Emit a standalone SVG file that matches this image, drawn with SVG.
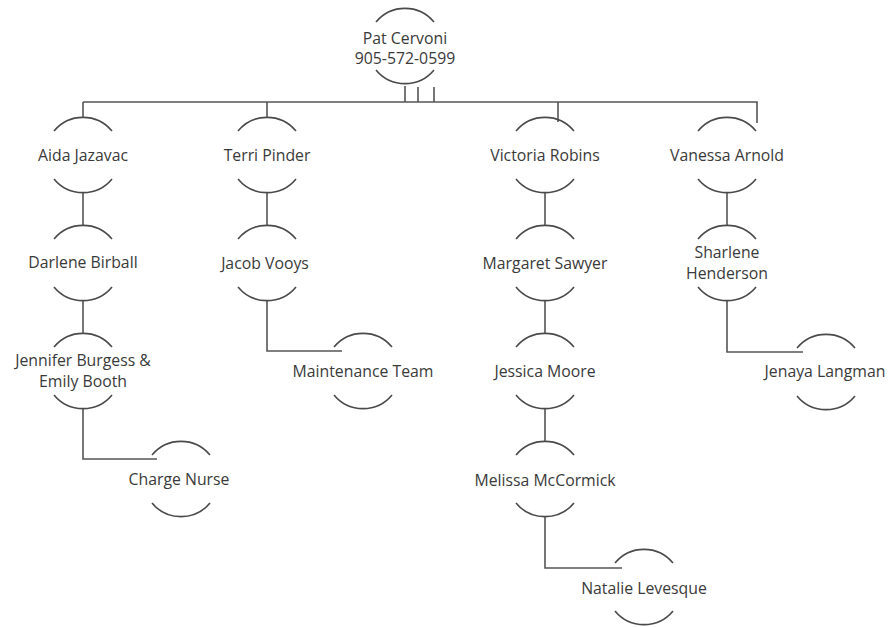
<svg xmlns="http://www.w3.org/2000/svg" width="888" height="627" viewBox="0 0 888 627">
<style>
.arc{fill:none;stroke:#4a4a4a;stroke-width:1.6}
.ln{fill:none;stroke:#555;stroke-width:1.6}
text{font-family:"Open Sans","Liberation Sans",sans-serif;font-size:15.8px;fill:#3a3a3a;text-anchor:middle}
</style>
<defs>
<path id="node" class="arc" d="M-29,-24 A37.6 37.6 0 0 1 29,-24 M-29,24 A37.6 37.6 0 0 0 29,24"/>
</defs>
<rect width="888" height="627" fill="#fff"/>
<g id="connectors">
<path class="ln" d="M83,102 H757 V123"/>
<path class="ln" d="M83,102 V117"/>
<path class="ln" d="M267,102 V117"/>
<path class="ln" d="M558,102 V122"/>
<path class="ln" d="M405,86 V102 M418,87 V102 M434,87 V102"/>
<path class="ln" d="M83,193 V225 M83,301 V333"/>
<path class="ln" d="M83,409 V459 H157"/>
<path class="ln" d="M267,193 V225"/>
<path class="ln" d="M267,301 V351 H342"/>
<path class="ln" d="M545,193 V225 M545,301 V333 M545,409 V441"/>
<path class="ln" d="M545,517 V568 H622"/>
<path class="ln" d="M727,193 V225"/>
<path class="ln" d="M727,301 V352 H803"/>
</g>
<g id="n-pat"><use href="#node" x="405" y="46"/><text x="405" y="44">Pat Cervoni</text><text x="405" y="64">905-572-0599</text></g>
<g id="n-aida"><use href="#node" x="83" y="155"/><text x="83" y="161">Aida Jazavac</text></g>
<g id="n-darlene"><use href="#node" x="83" y="263"/><text x="83" y="268">Darlene Birball</text></g>
<g id="n-jennifer"><use href="#node" x="83" y="371"/><text x="83" y="366">Jennifer Burgess &amp;</text><text x="83" y="387">Emily Booth</text></g>
<g id="n-charge"><use href="#node" x="181" y="479"/><text x="179" y="485">Charge Nurse</text></g>
<g id="n-terri"><use href="#node" x="267" y="155"/><text x="267" y="161">Terri Pinder</text></g>
<g id="n-jacob"><use href="#node" x="267" y="263"/><text x="265" y="269">Jacob Vooys</text></g>
<g id="n-maint"><use href="#node" x="363" y="371"/><text x="363" y="377">Maintenance Team</text></g>
<g id="n-victoria"><use href="#node" x="545" y="155"/><text x="545" y="161">Victoria Robins</text></g>
<g id="n-margaret"><use href="#node" x="545" y="263"/><text x="545" y="269">Margaret Sawyer</text></g>
<g id="n-jessica"><use href="#node" x="545" y="371"/><text x="545" y="377">Jessica Moore</text></g>
<g id="n-melissa"><use href="#node" x="545" y="479"/><text x="545" y="486">Melissa McCormick</text></g>
<g id="n-natalie"><use href="#node" x="644" y="587"/><text x="644" y="594">Natalie Levesque</text></g>
<g id="n-vanessa"><use href="#node" x="727" y="155"/><text x="727" y="161">Vanessa Arnold</text></g>
<g id="n-sharlene"><use href="#node" x="727" y="263"/><text x="727" y="258">Sharlene</text><text x="727" y="279">Henderson</text></g>
<g id="n-jenaya"><use href="#node" x="826" y="372"/><text x="825" y="377">Jenaya Langman</text></g>
</svg>
